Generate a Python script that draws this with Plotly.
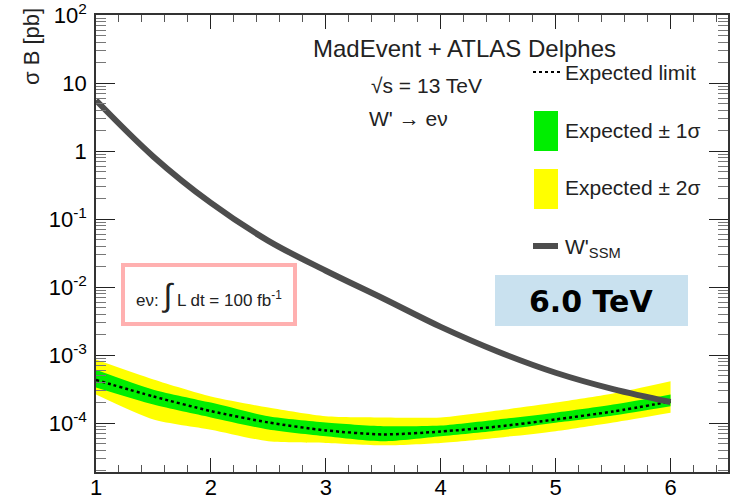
import plotly.graph_objects as go

# ---------------- data ----------------
mass_tev = [1.0, 1.5, 2.0, 2.5, 3.0, 3.5, 4.0, 4.5, 5.0, 5.5, 6.0]
expected = [4.3e-4, 2.46e-4, 1.5e-4, 1.02e-4, 7.8e-5, 6.8e-5, 7.5e-5, 8.9e-5, 1.13e-4, 1.48e-4, 2.07e-4]
plus1 = [6.1e-4, 3.1e-4, 2.0e-4, 1.26e-4, 1.02e-4, 9.0e-5, 9.2e-5, 1.13e-4, 1.42e-4, 1.87e-4, 2.63e-4]
minus1 = [3.33e-4, 1.87e-4, 1.21e-4, 8.05e-5, 6.4e-5, 5.4e-5, 6.4e-5, 7.8e-5, 1.01e-4, 1.29e-4, 1.77e-4]
plus2 = [8.6e-4, 4.37e-4, 2.46e-4, 1.69e-4, 1.26e-4, 1.21e-4, 1.21e-4, 1.53e-4, 2.0e-4, 2.72e-4, 4.12e-4]
minus2 = [2.63e-4, 1.13e-4, 8.0e-5, 5.4e-5, 5.1e-5, 4.7e-5, 5.1e-5, 6.1e-5, 7.6e-5, 1.02e-4, 1.42e-4]
wssm = [5.6, 0.83, 0.173, 0.048, 0.0174, 0.0068, 0.0026, 0.00112, 5.5e-4, 3.16e-4, 2.04e-4]

x_tick_vals = [1, 2, 3, 4, 5, 6]
x_tick_labels = ["1", "2", "3", "4", "5", "6"]
y_tick_vals = [1e-4, 1e-3, 1e-2, 1e-1, 1, 10, 100]
y_tick_labels = ["10<sup>-4</sup>", "10<sup>-3</sup>", "10<sup>-2</sup>", "10<sup>-1</sup>", "1", "10", "10<sup>2</sup>"]

FONT = "Liberation Sans, Arial, sans-serif"
SM = 0.7

fig = go.Figure()

# yellow band
fig.add_trace(go.Scatter(x=mass_tev, y=plus2, mode="lines", line=dict(width=0, color="#ffff00", shape="spline", smoothing=SM),
                         showlegend=False, hoverinfo="skip"))
fig.add_trace(go.Scatter(x=mass_tev, y=minus2, mode="lines", line=dict(width=0, color="#ffff00", shape="spline", smoothing=SM),
                         fill="tonexty", fillcolor="#ffff00", showlegend=False, hoverinfo="skip"))
# green band
fig.add_trace(go.Scatter(x=mass_tev, y=plus1, mode="lines", line=dict(width=0, color="#00ee00", shape="spline", smoothing=SM),
                         showlegend=False, hoverinfo="skip"))
fig.add_trace(go.Scatter(x=mass_tev, y=minus1, mode="lines", line=dict(width=0, color="#00ee00", shape="spline", smoothing=SM),
                         fill="tonexty", fillcolor="#00ee00", showlegend=False, hoverinfo="skip"))
# expected limit
fig.add_trace(go.Scatter(x=mass_tev, y=expected, mode="lines",
                         line=dict(color="black", width=2.5, dash="dot", shape="spline", smoothing=SM),
                         showlegend=False))
# W' SSM
fig.add_trace(go.Scatter(x=mass_tev, y=wssm, mode="lines",
                         line=dict(color="#4d4d4d", width=6, shape="spline"), showlegend=False))

# plot-area geometry (window pixels) for paper conversions
L, R, T, B = 96, 728, 15, 472
W, H = R - L, B - T
def px(x):
    return (x - L) / W
def py(y):
    return (B - y) / H

shapes = []
# pink box
shapes.append(dict(type="rect", xref="paper", yref="paper", x0=px(123), x1=px(295), y0=py(324), y1=py(265),
                   line=dict(color="#ffb0b0", width=4), fillcolor="white", layer="above"))
# blue box
shapes.append(dict(type="rect", xref="paper", yref="paper", x0=px(495), x1=px(688), y0=py(326), y1=py(275),
                   line=dict(width=0), fillcolor="#c9e1ef", layer="above"))
# legend samples
shapes.append(dict(type="line", xref="paper", yref="paper", x0=px(533), x1=px(562), y0=py(72), y1=py(72),
                   line=dict(color="black", width=2, dash="dot")))
shapes.append(dict(type="rect", xref="paper", yref="paper", x0=px(534), x1=px(558), y0=py(151), y1=py(111),
                   line=dict(width=0), fillcolor="#00ee00"))
shapes.append(dict(type="rect", xref="paper", yref="paper", x0=px(534), x1=px(558), y0=py(209), y1=py(169),
                   line=dict(width=0), fillcolor="#ffff00"))
shapes.append(dict(type="line", xref="paper", yref="paper", x0=px(533), x1=px(558), y0=py(246), y1=py(246),
                   line=dict(color="#4d4d4d", width=6)))

annotations = []
def ann(text, x, y, size=20, xanchor="left", **kw):
    annotations.append(dict(text=text, xref="paper", yref="paper", x=px(x), y=py(y), xanchor=xanchor,
                            yanchor="middle", showarrow=False, font=dict(family=FONT, size=size, color="#222"), **kw))

ann("MadEvent + ATLAS Delphes", 464, 48, size=24, xanchor="center")
ann("√s = 13 TeV", 369, 85, size=21)
ann("W' → eν", 367, 118, size=21)
ann("Expected limit", 563, 72, size=21)
ann("Expected ± 1σ", 563, 130, size=21)
ann("Expected ± 2σ", 563, 188, size=21)
ann("W'<sub>SSM</sub>", 563, 248, size=21)
ann("eν: <span style='font-size:32px'>∫</span> L dt = 100 fb<sup>-1</sup>", 209, 295, size=17, xanchor="center")
annotations.append(dict(text="<b>6.0 TeV</b>", xref="paper", yref="paper", x=px(591), y=py(301),
                        xanchor="center", yanchor="middle", showarrow=False,
                        font=dict(family="DejaVu Sans, Verdana, sans-serif", size=30, color="black")))
# y-axis title (ROOT style, aligned at the top)
annotations.append(dict(text="σ B [pb]", xref="paper", yref="paper", x=px(31), y=py(47),
                        xanchor="center", yanchor="middle", textangle=-90, showarrow=False,
                        font=dict(family=FONT, size=22, color="#222")))

y_minor = [k * 10 ** e for e in range(-5, 2) for k in range(2, 10)]
x_minor = [round(1 + 0.2 * i, 2) for i in range(0, 28) if abs((1 + 0.2 * i) - round(1 + 0.2 * i)) > 1e-6]

fig.update_layout(
    width=740, height=499,
    margin=dict(l=L, r=740 - R, t=T, b=499 - B, pad=0),
    paper_bgcolor="white", plot_bgcolor="white",
    shapes=shapes, annotations=annotations,
    font=dict(family=FONT, size=20, color="black"),
    xaxis=dict(range=[1, 6.5], tickmode="array", tickvals=x_tick_vals, ticktext=x_tick_labels,
               automargin=False, ticklabeloverflow="allow", ticklabelstandoff=-5,
               ticks="inside", ticklen=14, tickwidth=1.3, tickcolor="#222",
               showline=True, linecolor="#333", linewidth=1.5, mirror="ticks",
               showgrid=False, zeroline=False, tickfont=dict(size=22, color="black"),
               minor=dict(tickmode="array", tickvals=x_minor, ticks="inside", ticklen=7,
                          tickcolor="#555", tickwidth=1, showgrid=False)),
    yaxis=dict(type="log", range=[-4.72, 2.003], tickmode="array", tickvals=y_tick_vals, ticktext=y_tick_labels,
               automargin=False, ticklabeloverflow="allow",
               ticks="inside", ticklen=19, tickwidth=1.3, tickcolor="#222",
               showline=True, linecolor="#333", linewidth=1.5, mirror="ticks",
               showgrid=False, zeroline=False, tickfont=dict(size=22, color="black"), ticklabelstandoff=3,
               minor=dict(tickmode="array", tickvals=y_minor, ticks="inside", ticklen=10,
                          tickcolor="#777", tickwidth=1, showgrid=False)),
)

fig.write_html("out.html", config={"displayModeBar": False},
               post_script="document.body.style.margin='0';")
